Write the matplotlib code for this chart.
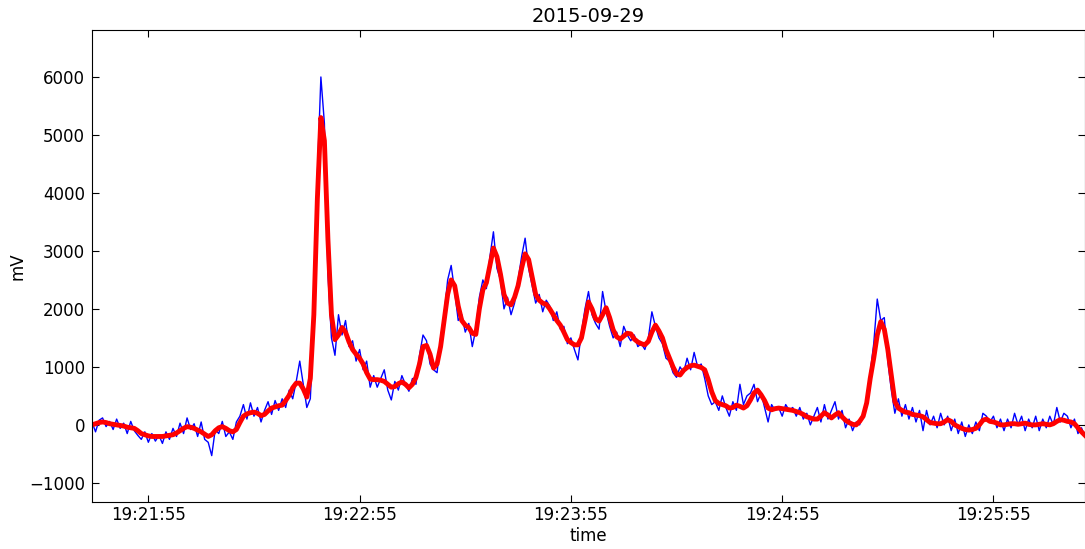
import datetime as dt
import numpy as np
import matplotlib
matplotlib.use("Agg")
import matplotlib.pyplot as plt
import matplotlib.dates as mdates

# one sample per second starting at 19:21:39
start = dt.datetime(2015, 9, 29, 19, 21, 39)

raw_mv = [
    50, -120, 80, 120, -30, 60, -80, 100, -60, 30,
    -150, 60, -100, -180, -250, -120, -300, -150, -280, -180,
    -320, -120, -250, -60, -200, 30, -150, 120, -80, 20,
    -200, 50, -250, -300, -530, -80, -150, 60, -200, -120,
    -250, 50, 150, 350, 100, 380, 150, 300, 50, 250,
    400, 180, 420, 250, 450, 300, 600, 450, 750, 1100,
    700, 300, 450, 1700, 4300, 6000, 5200, 2600, 1500, 1200,
    1900, 1550, 1800, 1350, 1450, 1100, 1300, 950, 1100, 650,
    850, 650, 800, 950, 600, 430, 750, 600, 850, 700,
    580, 800, 700, 1200, 1550, 1450, 1050, 950, 900, 1500,
    1900, 2500, 2750, 2300, 1800, 1900, 1600, 1750, 1350, 1650,
    2200, 2500, 2350, 2900, 3330, 2700, 2500, 2000, 2200, 1900,
    2100, 2500, 2900, 3220, 2700, 2400, 2100, 2250, 1950, 2150,
    2050, 1800, 1950, 1650, 1700, 1400, 1500, 1300, 1120, 1600,
    2000, 2300, 1900, 1750, 1650, 2300, 1950, 1700, 1500, 1600,
    1350, 1700, 1550, 1450, 1550, 1350, 1400, 1300, 1500, 1950,
    1700, 1500, 1400, 1150, 1100, 900, 820, 1000, 900, 1150,
    950, 1250, 1000, 1050, 800, 500, 350, 400, 250, 500,
    300, 150, 400, 250, 700, 350, 500, 550, 700, 400,
    550, 300, 50, 350, 250, 300, 150, 350, 250, 300,
    150, 300, 100, 200, 0, 150, 300, 50, 350, 100,
    250, 400, 100, 250, -50, 100, -100, 50, 0, 200,
    350, 900, 1400, 2170, 1800, 1850, 1100, 600, 200, 450,
    150, 350, 100, 300, 50, 250, -100, 250, 0, 150,
    -50, 200, 0, 150, -100, 100, -150, 50, -200, 0,
    -150, 50, -100, 200, 150, 50, 150, -50, 100, -100,
    100, -50, 200, 0, 150, -100, 100, -50, 150, -100,
    100, -50, 150, 0, 300, 50, 200, 150, -50, 100,
    -150, -50, -200,
]

smooth_mv = [
    0, 20, 40, 50, 40, 20, 10, 0, -10, -20,
    -40, -50, -60, -100, -150, -170, -190, -200, -200, -200,
    -200, -190, -180, -170, -140, -100, -60, -30, -40, -60,
    -90, -120, -160, -200, -170, -100, -50, -30, -60, -100,
    -120, -80, 40, 150, 190, 210, 220, 200, 160, 180,
    240, 290, 310, 330, 340, 420, 510, 640, 720, 720,
    620, 480, 800, 1900, 3900, 5300, 4900, 3200, 1900, 1470,
    1550, 1680, 1600, 1430, 1300, 1220, 1150, 1050, 900, 790,
    780, 780, 770, 750, 700, 650, 660, 710, 740, 700,
    640, 700, 820, 1050, 1350, 1370, 1220, 980, 1050, 1350,
    1800, 2250, 2500, 2400, 2050, 1800, 1720, 1680, 1580, 1560,
    2000, 2330, 2450, 2750, 3050, 2900, 2600, 2250, 2100, 2070,
    2200, 2400, 2700, 2950, 2850, 2550, 2250, 2150, 2100, 2080,
    2000, 1900, 1800, 1720, 1600, 1470, 1420, 1380, 1380, 1500,
    1800, 2120, 2000, 1830, 1790, 1900, 2020, 1850, 1640, 1520,
    1480, 1530, 1580, 1570, 1480, 1430, 1400, 1380, 1440, 1600,
    1720, 1620, 1500, 1300, 1150, 1000, 880, 860, 940, 990,
    1020, 1030, 1010, 990, 950, 780, 570, 420, 370, 350,
    330, 290, 300, 340, 320, 290, 330, 430, 550, 600,
    520, 420, 290, 260, 280, 290, 280, 270, 260, 250,
    230, 210, 180, 140, 120, 100, 100, 150, 210, 170,
    120, 170, 210, 140, 80, 40, 10, 0, 60, 150,
    380, 800, 1150, 1550, 1780, 1650, 1300, 850, 400, 290,
    250, 220, 210, 180, 170, 160, 140, 90, 40, 30,
    20, 20, 50, 90, 60, 0, -30, -60, -80, -90,
    -80, -60, 0, 80, 100, 60, 50, 30, 0, 0,
    10, 20, 20, 10, 20, 30, 10, 0, 0, 10,
    20, 10, 0, 20, 60, 90, 80, 60, 50, 20,
    -50, -120, -180,
]

times = [start + dt.timedelta(seconds=i) for i in range(len(raw_mv))]

fig = plt.figure(figsize=(10.85, 5.49), dpi=100)
ax = fig.add_axes([92 / 1085, 1 - 502 / 549, 993 / 1085, 472 / 549])

ax.plot(times, raw_mv, color="blue", lw=1)
ax.plot(times, smooth_mv, color="red", lw=3.5)

ax.set_xlim(times[0], times[-1])
ax.set_ylim(-1330, 6810)
ax.set_yticks(np.arange(-1000, 6001, 1000))
ax.xaxis.set_major_locator(mdates.SecondLocator(bysecond=[55]))
ax.xaxis.set_major_formatter(mdates.DateFormatter("%H:%M:%S"))

ax.tick_params(direction="in", top=True, right=True, length=5, labelsize=12)
ax.tick_params(axis="x", pad=3)
ax.tick_params(axis="y", pad=5)
ax.set_xlabel("time", fontsize=12, labelpad=2)
ax.set_ylabel("mV", fontsize=12, labelpad=2)
ax.set_title("2015-09-29", fontsize=14)

fig.savefig("out.png", dpi=100)
